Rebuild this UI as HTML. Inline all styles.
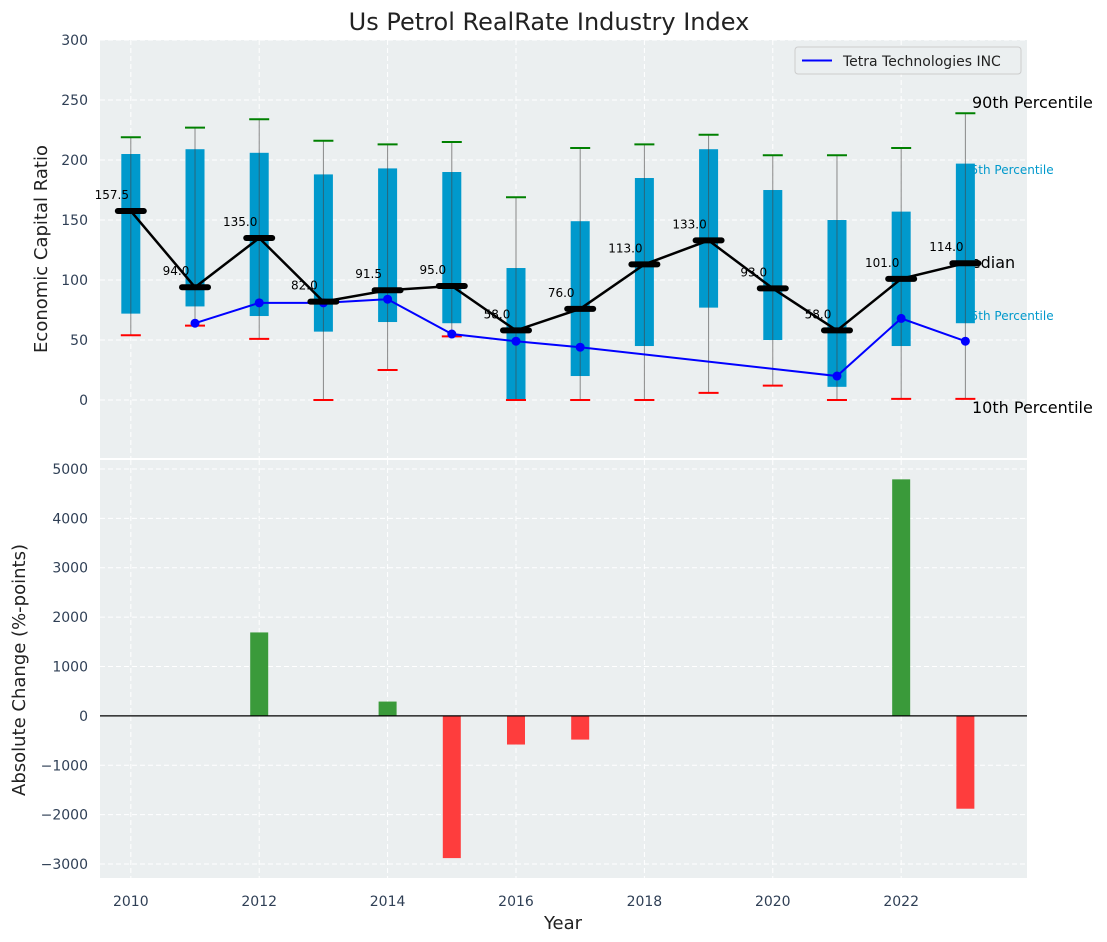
<!DOCTYPE html>
<html><head><meta charset="utf-8"><style>
body{margin:0;background:#fff;font-family:"Liberation Sans","DejaVu Sans",sans-serif}
svg{display:block}
</style></head><body>
<svg id="chart" width="1107" height="942" font-family="DejaVu Sans, Liberation Sans, sans-serif"></svg>
<script>
const years=[2010,2011,2012,2013,2014,2015,2016,2017,2018,2019,2020,2021,2022,2023];
const p10=[54,62,51,0,25,53,0,0,0,6,12,0,1,1];
const q1=[72,78,70,57,65,64,0,20,45,77,50,11,45,64];
const medians=[157.5,94,135,82,91.5,95,58,76,113,133,93,58,101,114];
const q3=[205,209,206,188,193,190,110,149,185,209,175,150,157,197];
const p90=[219,227,234,216,213,215,169,210,213,221,204,204,210,239];
const tetraYears=[2011,2012,2013,2014,2015,2016,2017,2021,2022,2023];
const tetraValues=[64,81,81,84,55,49,44,20,68,49];
const changeYears=[2012,2014,2015,2016,2017,2022,2023];
const changeValues=[1690,290,-2880,-580,-480,4790,-1880];
const topTicks=[0,50,100,150,200,250,300];
const botTicks=[-3000,-2000,-1000,0,1000,2000,3000,4000,5000];
const xTicks=[2010,2012,2014,2016,2018,2020,2022];

const svg=document.getElementById('chart');
const NS='http://www.w3.org/2000/svg';
function mk(tag,attrs,parent,text){const e=document.createElementNS(NS,tag);for(const k in attrs)e.setAttribute(k,attrs[k]);if(text!==undefined)e.textContent=text;(parent||svg).appendChild(e);return e;}
const L=100,R=1027,T1=40,B1=458,T2=460,B2=878;
const x=v=>L+(v-2009.52)/(2023.96-2009.52)*(R-L);
const y1=v=>T1+(300-v)/(300+48.3)*(B1-T1);
const y2=v=>T2+(5182-v)/(5182+3283)*(B2-T2);

let t=mk('text',{x:549,y:30,'text-anchor':'middle','font-size':24,fill:'#222'},svg,'Us Petrol RealRate Industry Index');


let bg=mk('rect',{x:L,y:T1,width:R-L,height:B1-T1,fill:'#ebeff0'});

bg=mk('rect',{x:L,y:T2,width:R-L,height:B2-T2,fill:'#ebeff0'});


topTicks.forEach(v=>{
  mk('line',{x1:L,x2:R,y1:y1(v),y2:y1(v),stroke:'#fff','stroke-dasharray':'5,3','stroke-width':1});
  const e=mk('text',{x:L-12,y:y1(v)+5,'text-anchor':'end','font-size':14,fill:'#2f3f55'},svg,String(v));
  
});
botTicks.forEach(v=>{
  mk('line',{x1:L,x2:R,y1:y2(v),y2:y2(v),stroke:'#fff','stroke-dasharray':'5,3','stroke-width':1});
  const e=mk('text',{x:L-12,y:y2(v)+5,'text-anchor':'end','font-size':14,fill:'#2f3f55'},svg,(v<0?'\u2212'+(-v):String(v)));
  
});
xTicks.forEach(v=>{
  mk('line',{x1:x(v),x2:x(v),y1:T1,y2:B1,stroke:'#fff','stroke-dasharray':'5,3'});
  mk('line',{x1:x(v),x2:x(v),y1:T2,y2:B2,stroke:'#fff','stroke-dasharray':'5,3'});
  const e=mk('text',{x:x(v),y:906,'text-anchor':'middle','font-size':14,fill:'#2f3f55'},svg,String(v));
  
});

// percentile annotations (drawn beneath marks)
[['90th Percentile',972,108,16,'#000'],['75th Percentile',963,174,12,'#0099cc'],['Median',957,268,16,'#000'],['25th Percentile',963,320,12,'#0099cc'],['10th Percentile',972,413,16,'#000']].forEach(a=>{
  const e=mk('text',{x:a[1],y:a[2],'font-size':a[3],fill:a[4]},svg,a[0]);
  
});

years.forEach((yr,i)=>{
  const cx=x(yr);
  const w=mk('line',{x1:cx,x2:cx,y1:y1(p90[i]),y2:y1(p10[i]),stroke:'#888','stroke-width':1});
  
  const b=mk('rect',{x:cx-9.5,y:y1(q3[i]),width:19,height:y1(q1[i])-y1(q3[i]),fill:'#0099cc'});
  
  mk('line',{x1:cx,x2:cx,y1:y1(q3[i]),y2:y1(q1[i]),stroke:'#444','stroke-width':1,opacity:0.6});
  const c1=mk('line',{x1:cx-10,x2:cx+10,y1:y1(p90[i]),y2:y1(p90[i]),stroke:'green','stroke-width':2});
  
  const c2=mk('line',{x1:cx-10,x2:cx+10,y1:y1(p10[i]),y2:y1(p10[i]),stroke:'red','stroke-width':2});
  
});
let pts=tetraYears.map((yr,i)=>x(yr)+','+y1(tetraValues[i])).join(' ');
let tl=mk('polyline',{points:pts,fill:'none',stroke:'blue','stroke-width':2});

tetraYears.forEach((yr,i)=>{const c=mk('circle',{cx:x(yr),cy:y1(tetraValues[i]),r:4.5,fill:'blue'});
  });
pts=years.map((yr,i)=>x(yr)+','+y1(medians[i])).join(' ');
let ml=mk('polyline',{points:pts,fill:'none',stroke:'#000','stroke-width':2.5});

years.forEach((yr,i)=>{
  const m=mk('line',{x1:x(yr)-13,x2:x(yr)+13,y1:y1(medians[i]),y2:y1(medians[i]),stroke:'#000','stroke-width':6,'stroke-linecap':'round'});
  
  const l=mk('text',{x:x(yr)-19,y:y1(medians[i])-12,'text-anchor':'middle','font-size':12,fill:'#000'},svg,medians[i].toFixed(1));
  
});

const lg=mk('g',{});

mk('rect',{x:795,y:47,width:226,height:27,rx:3,fill:'#ebeff0',stroke:'#ccc'},lg);
mk('line',{x1:802,x2:832,y1:60.5,y2:60.5,stroke:'blue','stroke-width':2},lg);
const lt=mk('text',{x:843,y:66,'font-size':14,fill:'#222'},lg,'Tetra Technologies INC');


changeYears.forEach((yr,i)=>{
  const v=changeValues[i];
  const b=mk('rect',{x:x(yr)-9,y:Math.min(y2(v),y2(0)),width:18,height:Math.abs(y2(v)-y2(0)),fill:v>=0?'#3a9a3a':'#fe3d3d'});
  
});
mk('line',{x1:L,x2:R,y1:y2(0),y2:y2(0),stroke:'#000','stroke-width':1.2});

let a=mk('text',{x:0,y:0,transform:'translate(47,249) rotate(-90)','text-anchor':'middle','font-size':18,fill:'#222'},svg,'Economic Capital Ratio');

a=mk('text',{x:0,y:0,transform:'translate(25,670) rotate(-90)','text-anchor':'middle','font-size':18,fill:'#222'},svg,'Absolute Change (%-points)');

a=mk('text',{x:563,y:929,'text-anchor':'middle','font-size':18,fill:'#222'},svg,'Year');

</script>
</body></html>
